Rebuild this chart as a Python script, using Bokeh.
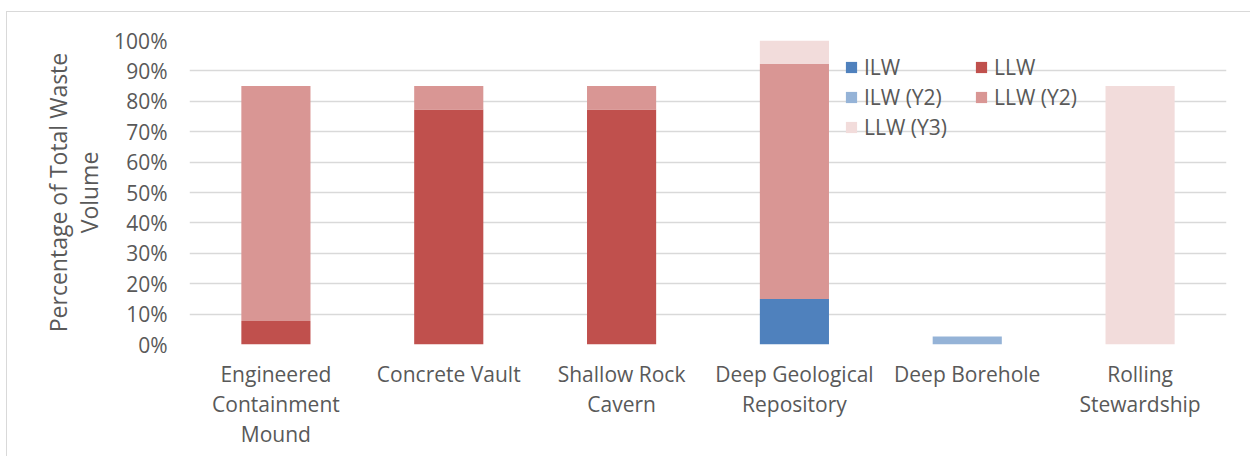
from bokeh.plotting import figure
from bokeh.models import (ColumnDataSource, Range1d, FixedTicker,
                          NumeralTickFormatter, Legend, LegendItem, LinearAxis)
from bokeh.embed import file_html
from bokeh.resources import INLINE

categories = ["Engineered Containment Mound", "Concrete Vault", "Shallow Rock Cavern",
              "Deep Geological Repository", "Deep Borehole", "Rolling Stewardship"]
label_line1 = ["Engineered", "Concrete Vault", "Shallow Rock", "Deep Geological", "Deep Borehole", "Rolling"]
label_line2 = ["Containment", "", "Cavern", "Repository", "", "Stewardship"]
label_line3 = ["Mound", "", "", "", "", ""]

series_names = ["ILW", "LLW", "ILW (Y2)", "LLW (Y2)", "LLW (Y3)"]
ilw = [0.0, 0.0, 0.0, 0.15, 0.0, 0.0]
llw = [0.077, 0.773, 0.773, 0.0, 0.0, 0.0]
ilw_y2 = [0.0, 0.0, 0.0, 0.0, 0.026, 0.0]
llw_y2 = [0.773, 0.077, 0.077, 0.773, 0.0, 0.0]
llw_y3 = [0.0, 0.0, 0.0, 0.077, 0.0, 0.85]
colors = ["#4F81BD", "#C0504D", "#95B3D7", "#D99694", "#F2DCDB"]
y_ticks = [0.0, 0.1, 0.2, 0.3, 0.4, 0.5, 0.6, 0.7, 0.8, 0.9, 1.0]

keys = ["ilw", "llw", "ilw_y2", "llw_y2", "llw_y3"]
# category slots on a numeric axis: slot i is centred at i + 0.5
centers = [i + 0.5 for i in range(len(categories))]
source = ColumnDataSource(data=dict(x=centers, cat=categories, ilw=ilw, llw=llw, ilw_y2=ilw_y2,
                                    llw_y2=llw_y2, llw_y3=llw_y3))

FONT = "Open Sans"
TXT = "#595959"

p = figure(x_range=Range1d(0, len(categories)), y_range=Range1d(0, 1),
           width=1244, height=445, output_backend="svg", toolbar_location=None,
           x_axis_location=None,
           min_border_left=182, min_border_right=25, min_border_top=28, min_border_bottom=113)
p.margin = (11, 0, 0, 6)

renderers = p.vbar_stack(keys, x="x", width=0.4, color=colors, line_color=None, source=source)

p.outline_line_color = None
p.xgrid.visible = False
p.ygrid.grid_line_color = "#D9D9D9"
p.ygrid.grid_line_width = 1.5

p.yaxis.ticker = FixedTicker(ticks=y_ticks)
p.yaxis.formatter = NumeralTickFormatter(format="0%")
p.yaxis.axis_line_color = None
p.yaxis.major_tick_line_color = None
p.yaxis.minor_tick_line_color = None
p.yaxis.major_label_standoff = 16
p.yaxis.major_label_text_font = FONT
p.yaxis.major_label_text_font_size = "21px"
p.yaxis.major_label_text_color = TXT
p.yaxis.axis_label = "Percentage of Total Waste\nVolume"
p.yaxis.axis_label_text_font = FONT
p.yaxis.axis_label_text_font_size = "23px"
p.yaxis.axis_label_text_font_style = "normal"
p.yaxis.axis_label_text_color = TXT
p.yaxis.axis_label_text_line_height = 0.97
p.yaxis.axis_label_standoff = 6

# category labels: one axis per text line
for lines, standoff in ((label_line1, 15), (label_line2, -1), (label_line3, -1)):
    ticks = [c for c, t in zip(centers, lines) if t]
    ax = LinearAxis(ticker=FixedTicker(ticks=ticks, minor_ticks=[]),
                    major_label_overrides={c: t for c, t in zip(centers, lines) if t})
    ax.axis_line_color = None
    ax.major_tick_line_color = None
    ax.minor_tick_line_color = None
    ax.major_tick_out = 0
    ax.major_label_text_font = FONT
    ax.major_label_text_font_size = "21px"
    ax.major_label_text_color = TXT
    ax.major_label_text_line_height = 1.0
    ax.major_label_standoff = standoff
    p.add_layout(ax, "below")

legend_order = [0, 2, 4, 1, 3]
items = [LegendItem(label=series_names[i], renderers=[renderers[i]]) for i in legend_order]
legend = Legend(items=items, location=(655, 203), ncols=2,
                background_fill_alpha=0, border_line_color=None,
                glyph_width=14, glyph_height=14, label_standoff=6,
                label_text_font=FONT, label_text_font_size="21px", label_text_color=TXT,
                padding=0, margin=0, spacing=2, label_width=108)
p.add_layout(legend, "center")

p.styles = {"border-left": "1px solid #D9D9D9", "border-top": "1px solid #D9D9D9"}

open("out.html", "w").write(file_html(p, INLINE))
